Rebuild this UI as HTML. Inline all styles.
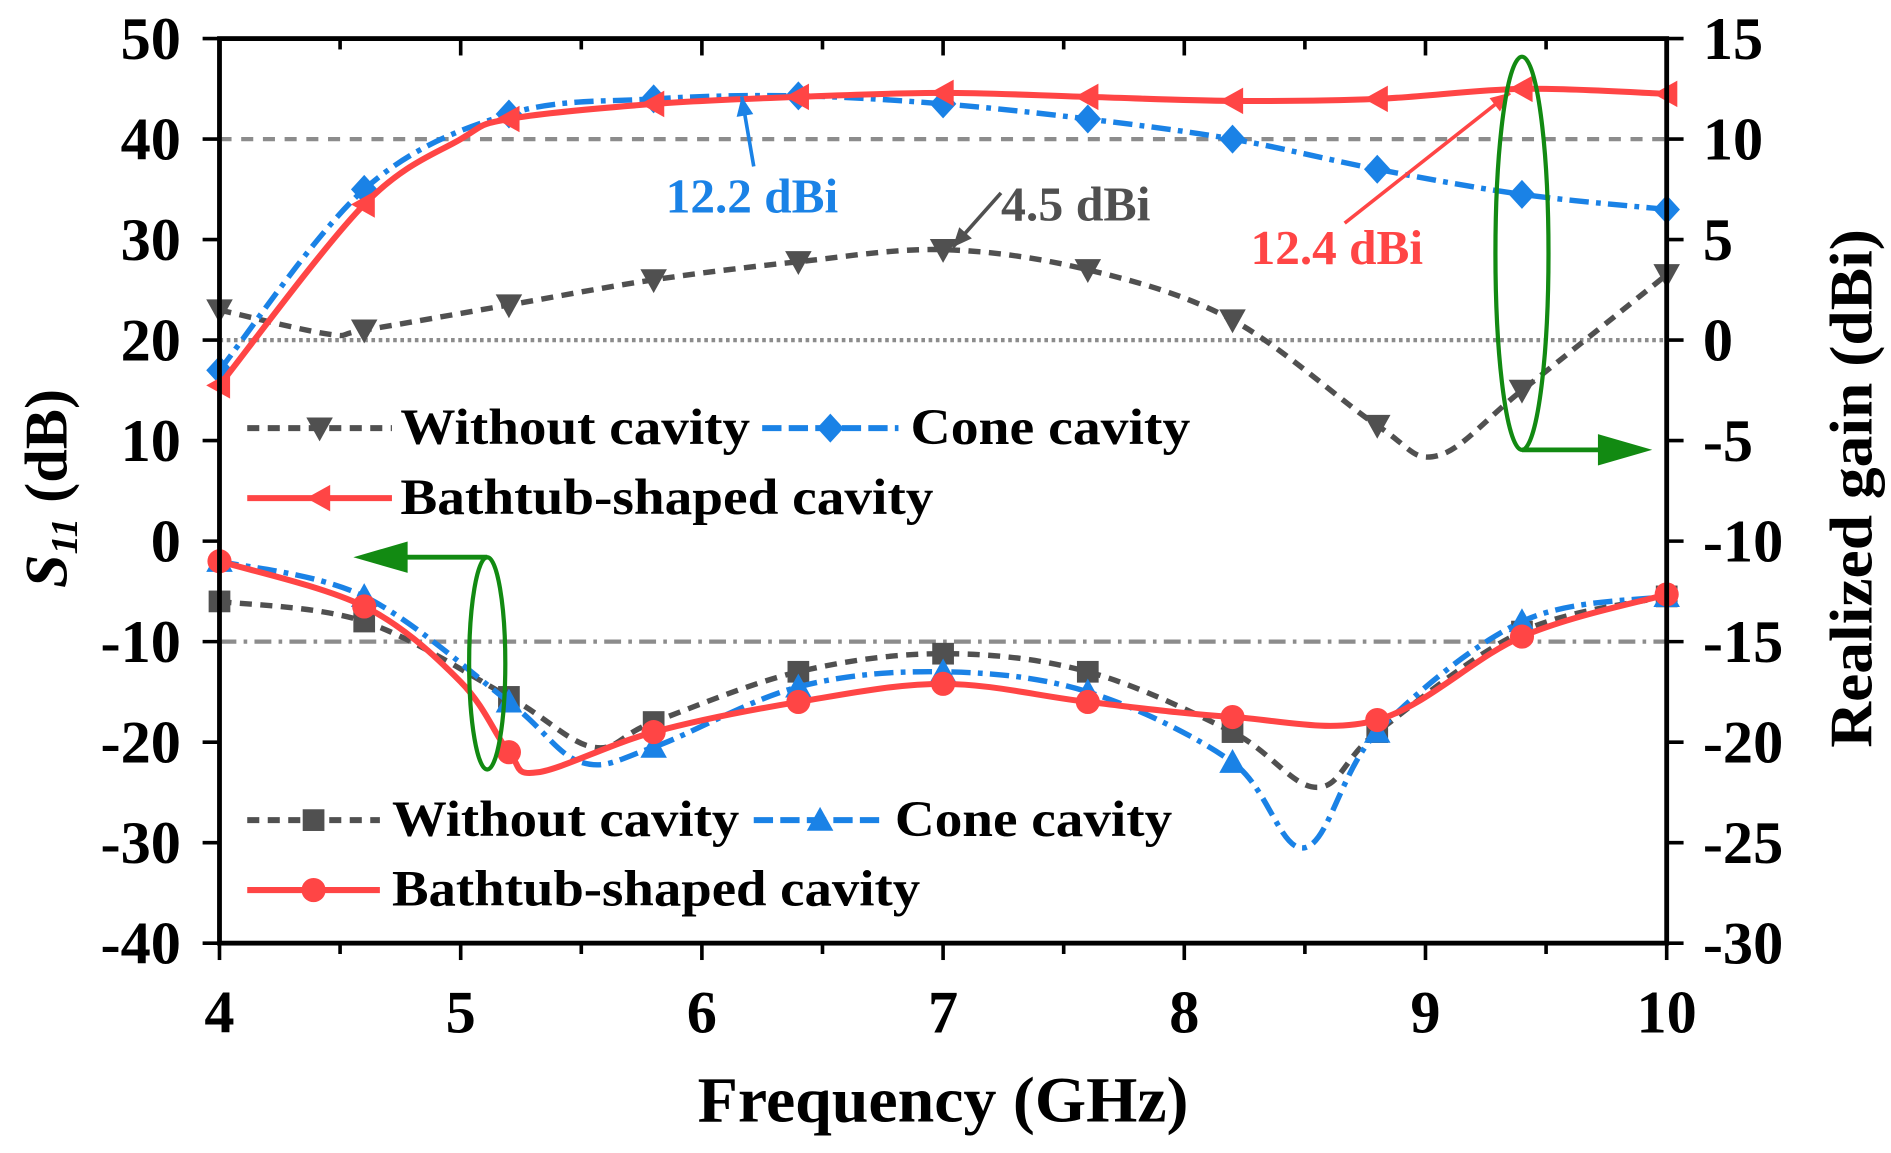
<!DOCTYPE html>
<html><head><meta charset="utf-8"><style>
html,body{margin:0;padding:0;background:#fff;}
svg{display:block;}
text{font-family:"Liberation Serif",serif;font-weight:bold;}
</style></head><body>
<svg id="chart" width="1891" height="1153" viewBox="0 0 1568 956" preserveAspectRatio="none" xmlns="http://www.w3.org/2000/svg"></svg>
<script>
const xTicks=[4,5,6,7,8,9,10];
const yLeftTicks=[50,40,30,20,10,0,-10,-20,-30,-40];
const yRightTicks=[15,10,5,0,-5,-10,-15,-20,-25,-30];
const markerFreqs=[4,4.6,5.2,5.8,6.4,7,7.6,8.2,8.8,9.4,10];
// gain curves (right axis, dBi)
const gainWithoutF=[4,4.45,4.6,5.2,5.8,6.4,7,7.6,8.2,8.8,9.05,9.4,10];
const gainWithoutV=[1.5,0.3,0.5,1.75,3,3.9,4.5,3.5,1,-4.25,-5.75,-2.5,3.25];
const gainConeF=[4,4.6,5.2,5.8,6.4,7,7.6,8.2,8.8,9.4,10];
const gainConeV=[-1.5,7.5,11.25,12,12.15,11.75,11,10,8.5,7.25,6.5];
const gainBathF=[4,4.6,5,5.2,5.8,6.4,7,7.6,8.2,8.8,9.4,10];
const gainBathV=[-2.25,6.75,10,11,11.75,12.1,12.3,12.1,11.9,12,12.5,12.25];
// S11 curves (left axis, dB)
const s11WithoutF=[4,4.6,5.2,5.55,5.8,6.4,7,7.6,8.2,8.55,8.8,9.4,10];
const s11WithoutV=[-6,-8,-15.5,-20.5,-18,-13,-11.2,-13,-19,-24.5,-19,-9,-5.5];
const s11ConeF=[4,4.6,5.2,5.5,5.8,6.4,7,7.6,8.2,8.5,8.8,9.4,10];
const s11ConeV=[-2,-5.5,-16,-22,-20.5,-14.5,-13,-15,-22,-30.5,-19,-8,-5.5];
const s11BathF=[4,4.6,5.0,5.2,5.32,5.8,6.4,7,7.6,8.2,8.8,9.4,10];
const s11BathV=[-2,-6.5,-14,-21,-23,-19,-16,-14.2,-16,-17.5,-17.8,-9.5,-5.3];

const svg=document.getElementById('chart');
const NS='http://www.w3.org/2000/svg';
const X=f=>182+(f-4)*200;
const YL=v=>32+(50-v)*750/90;
const YR=g=>32+(15-g)*750/45;
function mk(tag,attrs,parent){const e=document.createElementNS(NS,tag);for(const k in attrs)e.setAttribute(k,attrs[k]);(parent||svg).appendChild(e);return e;}
function txt(s,x,y,size,anchor,fill,parent,len){const a={x:x,y:y,'font-size':size,'text-anchor':anchor||'middle',fill:fill||'#000'};if(len){a.textLength=len;a.lengthAdjust='spacingAndGlyphs';}const t=mk('text',a,parent);t.textContent=s;return t;}
function smooth(pts){let d='M'+pts[0][0]+','+pts[0][1];for(let i=0;i<pts.length-1;i++){const p0=pts[Math.max(0,i-1)],p1=pts[i],p2=pts[i+1],p3=pts[Math.min(pts.length-1,i+2)];const c1=[p1[0]+(p2[0]-p0[0])/6,p1[1]+(p2[1]-p0[1])/6],c2=[p2[0]-(p3[0]-p1[0])/6,p2[1]-(p3[1]-p1[1])/6];d+=' C'+c1+' '+c2+' '+p2;}return d;}
function marker(type,x,y,color,parent){
 const s=11;
 if(type==='tdown')return mk('polygon',{points:`${x-s},${y-s*0.8} ${x+s},${y-s*0.8} ${x},${y+s}`,fill:color},parent);
 if(type==='tup')return mk('polygon',{points:`${x-s},${y+s*0.8} ${x+s},${y+s*0.8} ${x},${y-s}`,fill:color},parent);
 if(type==='tleft')return mk('polygon',{points:`${x+s*0.8},${y-s} ${x+s*0.8},${y+s} ${x-s},${y}`,fill:color},parent);
 if(type==='diamond')return mk('polygon',{points:`${x},${y-s-1} ${x+s},${y} ${x},${y+s+1} ${x-s},${y}`,fill:color},parent);
 if(type==='square')return mk('rect',{x:x-9,y:y-9,width:18,height:18,fill:color},parent);
 return mk('circle',{cx:x,cy:y,r:10,fill:color},parent);
}
let r;
r=mk('line',{x1:182,x2:1382,y1:YL(40),y2:YL(40),stroke:'#8c8c8c','stroke-width':3.5,'stroke-dasharray':'10,8'});

r=mk('line',{x1:182,x2:1382,y1:YL(20),y2:YL(20),stroke:'#8c8c8c','stroke-width':3.5,'stroke-dasharray':'3,3'});

r=mk('line',{x1:182,x2:1382,y1:YL(-10),y2:YL(-10),stroke:'#8c8c8c','stroke-width':3.5,'stroke-dasharray':'14,6,3,6'});


function series(name,F,V,yf,color,dash,mtype){
 const g=mk('g',{});
 
 
 const pts=F.map((f,i)=>[X(f),yf(V[i])]);
 mk('path',{d:smooth(pts),fill:'none',stroke:color,'stroke-width':dash?4.5:5,'stroke-dasharray':dash||'none'},g);
 F.forEach((f,i)=>{if(markerFreqs.some(m=>Math.abs(m-f)<1e-6)){const m=marker(mtype,X(f),yf(V[i]),color,g);
  
  }});
}
const GRAY='#505050',BLUE='#1a82e6',RED='#ff4545';
series('gain-without-cavity',gainWithoutF,gainWithoutV,YR,GRAY,'10,7','tdown');
series('gain-cone-cavity',gainConeF,gainConeV,YR,BLUE,'16,6,4,6','diamond');
series('gain-bathtub-cavity',gainBathF,gainBathV,YR,RED,null,'tleft');
series('s11-without-cavity',s11WithoutF,s11WithoutV,YL,GRAY,'10,7','square');
series('s11-cone-cavity',s11ConeF,s11ConeV,YL,BLUE,'16,6,4,6','tup');
series('s11-bathtub-cavity',s11BathF,s11BathV,YL,RED,null,'circle');

const fr=mk('rect',{x:182,y:32,width:1200,height:750,fill:'none',stroke:'#000','stroke-width':4});

const xg=mk('g',{});
for(let f=4;f<=10.001;f+=0.5){const maj=Math.abs(f-Math.round(f))<1e-6;const L=maj?14:9;
 mk('line',{x1:X(f),x2:X(f),y1:782,y2:782+L,stroke:'#000','stroke-width':3},xg);
 mk('line',{x1:X(f),x2:X(f),y1:32,y2:32+L,stroke:'#000','stroke-width':3},xg);}
xTicks.forEach(f=>{const t=txt(String(f),X(f),856,50,'middle','#000',xg);});
const yl=mk('g',{});
yLeftTicks.forEach(v=>{mk('line',{x1:168,x2:182,y1:YL(v),y2:YL(v),stroke:'#000','stroke-width':3},yl);
 const t=txt(String(v),150,YL(v)+17,50,'end','#000',yl);});
const yr=mk('g',{});
yRightTicks.forEach(v=>{mk('line',{x1:1382,x2:1396,y1:YR(v),y2:YR(v),stroke:'#000','stroke-width':3},yr);
 const t=txt(String(v),1412,YR(v)+17,50,'start','#000',yr);});
let t=txt('Frequency (GHz)',782,930,54,'middle','#000',null,407);
t=mk('text',{x:0,y:0,'font-size':50,'text-anchor':'middle',transform:'translate(55,405) rotate(-90)'});
t.innerHTML='<tspan font-style="italic">S<tspan font-size="32" dy="9">11</tspan></tspan><tspan dy="-9"> (dB)</tspan>';

t=txt('Realized gain (dBi)',0,0,50,'middle','#000',null,430);t.setAttribute('transform','translate(1552,405) rotate(-90)');


function legItem(name,x1,x2,y,color,dash,mtype,label,tx,len){
 const g=mk('g',{});
 mk('line',{x1:x1,x2:x2,y1:y,y2:y,stroke:color,'stroke-width':5,'stroke-dasharray':dash||'none'},g);
 marker(mtype,(x1+x2)/2,y,color,g);
 txt(label,tx,y+13,42,'start','#000',g,len);
}
legItem('legend-gain-without',205,325,355,GRAY,'10,7','tdown','Without cavity',332,290);
legItem('legend-gain-cone',632,745,355,BLUE,'16,6','diamond','Cone cavity',755,232);
legItem('legend-gain-bathtub',205,325,413,RED,null,'tleft','Bathtub-shaped cavity',332,442);
legItem('legend-s11-without',205,315,680,GRAY,'10,7','square','Without cavity',325,288);
legItem('legend-s11-cone',625,735,680,BLUE,'16,6','tup','Cone cavity',742,230);
legItem('legend-s11-bathtub',205,315,738,RED,null,'circle','Bathtub-shaped cavity',325,438);

function arrowLine(name,x1,y1,x2,y2,color){const g=mk('g',{});
 mk('line',{x1:x1,y1:y1,x2:x2,y2:y2,stroke:color,'stroke-width':3},g);
 const a=Math.atan2(y2-y1,x2-x1),L=16,w=7;
 const bx=x2-L*Math.cos(a),by=y2-L*Math.sin(a);
 mk('polygon',{points:`${x2},${y2} ${bx-w*Math.sin(a)},${by+w*Math.cos(a)} ${bx+w*Math.sin(a)},${by-w*Math.cos(a)}`,fill:color},g);}
arrowLine('annotation-arrow-12-2',625,138,615,80,BLUE);
t=txt('12.2 dBi',552,176,40,'start',BLUE,null,143);
arrowLine('annotation-arrow-4-5',830,160,790,205,GRAY);
t=txt('4.5 dBi',830,183,40,'start',GRAY,null,124);
arrowLine('annotation-arrow-12-4',1115,185,1252,77,RED);
t=txt('12.4 dBi',1037,219,40,'start',RED,null,143);
const GREEN='#128a12';
let e=mk('ellipse',{cx:1262,cy:210,rx:22,ry:163,fill:'none',stroke:GREEN,'stroke-width':3.5});

let g=mk('g',{});
mk('polyline',{points:'1262,373 1330,373',fill:'none',stroke:GREEN,'stroke-width':4},g);
mk('polygon',{points:'1325,360 1370,373 1325,386',fill:GREEN},g);
e=mk('ellipse',{cx:404,cy:550,rx:15,ry:88,fill:'none',stroke:GREEN,'stroke-width':3.5});

g=mk('g',{});
mk('polyline',{points:'404,462 335,462',fill:'none',stroke:GREEN,'stroke-width':4},g);
mk('polygon',{points:'338,449 293,462 338,475',fill:GREEN},g);
</script>
</body></html>
